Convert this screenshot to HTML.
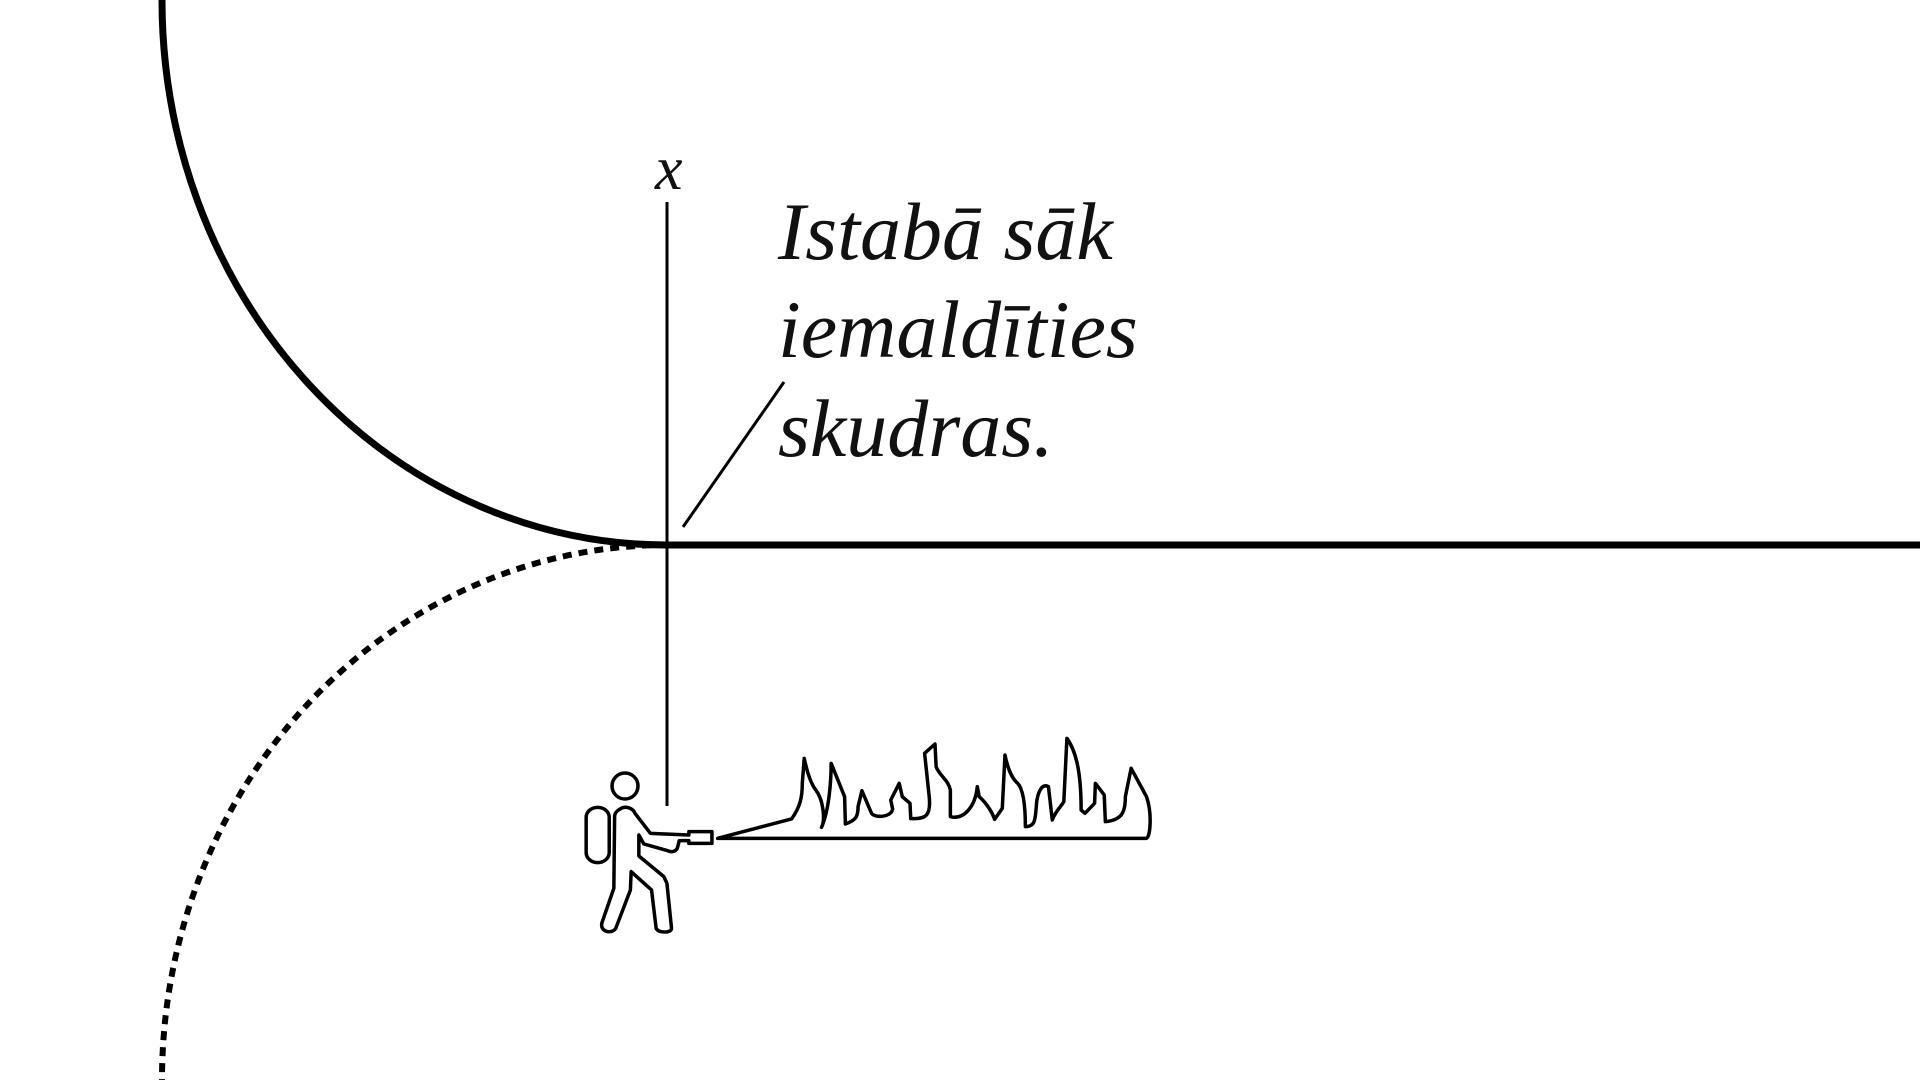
<!DOCTYPE html>
<html><head><meta charset="utf-8"><style>
html,body{margin:0;padding:0;background:#fff;width:1920px;height:1080px;overflow:hidden}
svg{display:block}
text{font-family:"Liberation Serif","Times New Roman",serif;font-style:italic;fill:#111}
</style></head><body>
<svg width="1920" height="1080" viewBox="0 0 1920 1080" xmlns="http://www.w3.org/2000/svg">
<path d="M162,0 A505,545 0 0 0 667,545 L1920,545" fill="none" stroke="#000" stroke-width="7"/>
<path d="M667,545 A505,535 0 0 0 162,1080" fill="none" stroke="#000" stroke-width="6" stroke-dasharray="9,7"/>
<line x1="667" y1="202" x2="667" y2="806" stroke="#000" stroke-width="3"/>
<line x1="784" y1="382" x2="683" y2="527" stroke="#000" stroke-width="3"/>
<text x="655" y="189" font-size="62" font-family="Liberation Serif, serif" font-style="italic">x</text>
<text x="778" y="259" font-size="82" font-family="Liberation Serif, serif" font-style="italic">Istabā sāk</text>
<text x="778" y="357" font-size="82" font-family="Liberation Serif, serif" font-style="italic">iemaldīties</text>
<text x="778" y="456" font-size="82" font-family="Liberation Serif, serif" font-style="italic">skudras.</text>
<circle cx="625" cy="786" r="13" fill="none" stroke="#000" stroke-width="3.5"/>
<g transform="translate(560,720) scale(0.3846,0.3333)" fill="none" stroke="#000" stroke-width="3.5" stroke-linejoin="round">
<rect x="68" y="262" width="60" height="166" rx="30" vector-effect="non-scaling-stroke"/>
<path vector-effect="non-scaling-stroke" d="M155,268 C170,255 190,265 195,280 L235,340 L335,345 L335,335 L395,335 L395,370 L335,370 L335,362 L310,362 L305,385 C300,395 290,398 280,392 L218,372 L205,345 L205,408 L270,470 L278,490 L290,625 C290,640 255,640 250,625 L238,510 L185,455 L183,510 L145,625 C135,645 100,635 110,605 L140,505 L142,290 C142,280 148,272 155,268 Z"/>
<path vector-effect="non-scaling-stroke" d="M410,355 L602,297 C625,260 630,230 630,190 L635,115 C645,170 655,195 665,210 C685,240 690,300 680,322 C700,270 705,180 705,130 L740,230 L742,312 C770,300 775,290 775,260 L785,212 L810,280 C820,295 860,292 865,268 L860,240 L882,190 L890,230 L910,250 L912,296 C950,297 965,290 960,230 L948,100 L975,72 L978,140 C985,165 1010,180 1015,210 L1015,290 C1050,300 1080,260 1085,200 L1090,230 C1110,250 1125,280 1130,298 L1150,265 L1157,105 C1165,150 1175,175 1190,190 C1210,215 1210,300 1210,320 C1240,320 1235,290 1240,240 C1245,210 1255,190 1270,200 L1280,300 C1290,270 1300,265 1310,245 L1318,55 C1340,90 1355,150 1355,270 L1365,280 L1390,250 L1392,190 L1415,225 L1418,305 C1465,300 1470,270 1470,230 L1485,145 L1525,230 C1540,280 1535,350 1525,355 Z"/>
</g>
</svg>
</body></html>
